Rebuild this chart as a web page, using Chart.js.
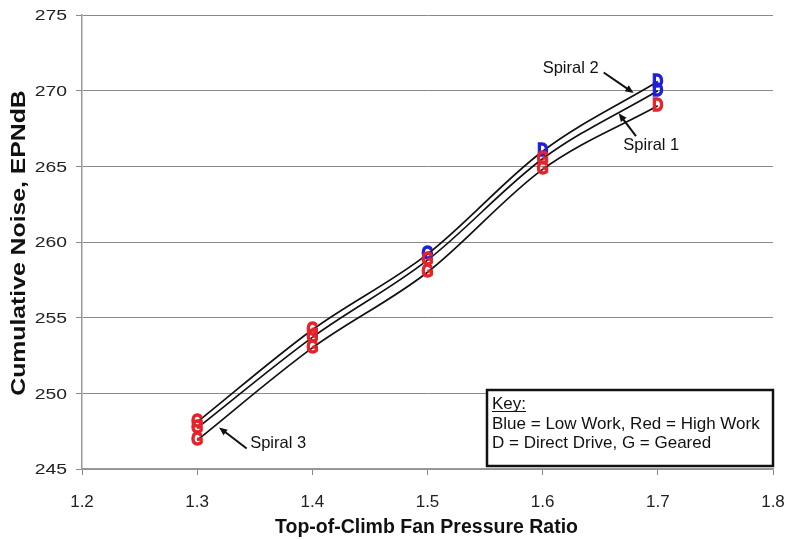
<!DOCTYPE html>
<html>
<head>
<meta charset="utf-8">
<script src="https://cdn.jsdelivr.net/npm/chart.js@4"></script>
<style>
  body { margin: 0; background: #fff; }
  #wrap { width: 786px; height: 540px; }
</style>
</head>
<body>
<div id="wrap"><canvas id="chart" width="786" height="540"></canvas></div>
<script>
// fan pressure ratio at each design point
const pressureRatio = [1.3, 1.4, 1.5, 1.6, 1.7];

// cumulative noise per spiral (EPNdB)
const spiral2Noise = [248.1, 254.2, 259.2, 266.0, 270.6];
const spiral1Noise = [247.7, 253.7, 258.8, 265.5, 270.0];
const spiral3Noise = [246.9, 253.0, 258.0, 264.8, 269.0];

// marker letter (D = direct drive, G = geared) and work level per point
const spiral2Letters = ['G', 'G', 'G', 'D', 'D'];
const spiral2Work = ['high', 'high', 'low', 'low', 'low'];
const spiral1Letters = ['G', 'G', 'G', 'G', 'D'];
const spiral1Work = ['high', 'high', 'high', 'high', 'low'];
const spiral3Letters = ['G', 'G', 'G', 'G', 'D'];
const spiral3Work = ['high', 'high', 'high', 'high', 'high'];

const yTicks = [245, 250, 255, 260, 265, 270, 275];
const xTicks = [1.2, 1.3, 1.4, 1.5, 1.6, 1.7, 1.8];

const xTitle = 'Top-of-Climb Fan Pressure Ratio';
const yTitle = 'Cumulative Noise, EPNdB';

// callout labels: text, text anchor, arrow tail, arrow head (data units)
const callouts = [
    { text: 'Spiral 2', at: [1.600, 271.5], from: [1.653, 271.2], to: [1.679, 269.85] },
    { text: 'Spiral 1', at: [1.670, 266.4], from: [1.681, 267.0], to: [1.666, 268.5] },
    { text: 'Spiral 3', at: [1.346, 246.7], from: [1.343, 246.35], to: [1.319, 247.75] }
];

const keyLines = ['Blue = Low Work, Red = High Work', 'D = Direct Drive, G = Geared'];

const workColor = { low: '#1f1fd6', high: '#e4242a' };
const FONT = '"Liberation Sans", Arial, sans-serif';

function toPoints(ys) {
    return pressureRatio.map((x, i) => ({ x: x, y: ys[i] }));
}

function spiralDataset(label, ys, letters, work) {
    return {
        label: label,
        data: toPoints(ys),
        showLine: true,
        borderColor: '#111',
        borderWidth: 1.7,
        pointRadius: 0,
        cubicInterpolationMode: 'monotone',
        letters: letters,
        work: work
    };
}

// text drawn with a horizontal stretch factor
function stretchText(ctx, text, x, y, sx, outline) {
    ctx.save();
    ctx.translate(x, y);
    ctx.scale(sx, 1);
    ctx.fillText(text, 0, 0);
    if (outline) ctx.strokeText(text, 0, 0);
    ctx.restore();
}

// draws the D / G letters at each data point
const letterMarkers = {
    id: 'letterMarkers',
    afterDatasetsDraw(chart) {
        const ctx = chart.ctx;
        ctx.save();
        ctx.font = 'bold 18px ' + FONT;
        ctx.textAlign = 'center';
        ctx.textBaseline = 'middle';
        ctx.lineWidth = 1.3;
        chart.data.datasets.forEach((ds, di) => {
            const meta = chart.getDatasetMeta(di);
            meta.data.forEach((pt, i) => {
                ctx.fillStyle = workColor[ds.work[i]];
                ctx.strokeStyle = workColor[ds.work[i]];
                stretchText(ctx, ds.letters[i], pt.x, pt.y, 0.85, true);
            });
        });
        ctx.restore();
    }
};

function drawArrow(ctx, x1, y1, x2, y2) {
    const ang = Math.atan2(y2 - y1, x2 - x1);
    ctx.beginPath();
    ctx.moveTo(x1, y1);
    ctx.lineTo(x2 - 6 * Math.cos(ang), y2 - 6 * Math.sin(ang));
    ctx.stroke();
    ctx.beginPath();
    ctx.moveTo(x2, y2);
    ctx.lineTo(x2 - 9 * Math.cos(ang - 0.4), y2 - 9 * Math.sin(ang - 0.4));
    ctx.lineTo(x2 - 9 * Math.cos(ang + 0.4), y2 - 9 * Math.sin(ang + 0.4));
    ctx.closePath();
    ctx.fill();
}

const annotations = {
    id: 'annotations',
    afterDraw(chart) {
        const ctx = chart.ctx;
        const xs = chart.scales.x, ys = chart.scales.y;
        const area = chart.chartArea;
        ctx.save();
        ctx.fillStyle = '#111';
        ctx.strokeStyle = '#111';

        // y tick labels (slightly wide face, as in the original)
        ctx.fillStyle = '#222';
        ctx.font = '15.5px ' + FONT;
        ctx.textAlign = 'right';
        ctx.textBaseline = 'middle';
        yTicks.forEach(v => stretchText(ctx, String(v), area.left - 15, ys.getPixelForValue(v) + 1, 1.25));

        // axis titles
        ctx.fillStyle = '#111';
        ctx.textAlign = 'center';
        ctx.font = 'bold 19.5px ' + FONT;
        ctx.fillText(xTitle, (area.left + area.right) / 2 - 1, 528);
        ctx.save();
        ctx.translate(20, (area.top + area.bottom) / 2 + 1);
        ctx.rotate(-Math.PI / 2);
        ctx.scale(1.27, 1);
        ctx.fillText(yTitle, 0, 0);
        ctx.restore();

        // spiral callouts
        ctx.textAlign = 'left';
        ctx.lineWidth = 2;
        ctx.font = '16.5px ' + FONT;
        callouts.forEach(c => {
            ctx.fillText(c.text, xs.getPixelForValue(c.at[0]), ys.getPixelForValue(c.at[1]));
            drawArrow(ctx,
                xs.getPixelForValue(c.from[0]), ys.getPixelForValue(c.from[1]),
                xs.getPixelForValue(c.to[0]), ys.getPixelForValue(c.to[1]));
        });

        // key box in the lower right corner
        const w = 286, h = 76;
        const bx = area.right - w, by = area.bottom - 3 - h;
        ctx.fillStyle = '#fff';
        ctx.fillRect(bx, by, w, h);
        ctx.lineWidth = 2.5;
        ctx.strokeRect(bx, by, w, h);
        ctx.fillStyle = '#111';
        ctx.textBaseline = 'alphabetic';
        ctx.font = '17px ' + FONT;
        ctx.fillText('Key:', bx + 5, by + 19);
        const kw = ctx.measureText('Key:').width;
        ctx.lineWidth = 1;
        ctx.beginPath();
        ctx.moveTo(bx + 5, by + 21.5);
        ctx.lineTo(bx + 5 + kw, by + 21.5);
        ctx.stroke();
        keyLines.forEach((t, i) => ctx.fillText(t, bx + 5, by + 39 + i * 18.5));
        ctx.restore();
    }
};

new Chart(document.getElementById('chart'), {
    type: 'scatter',
    data: {
        datasets: [
            spiralDataset('Spiral 2', spiral2Noise, spiral2Letters, spiral2Work),
            spiralDataset('Spiral 1', spiral1Noise, spiral1Letters, spiral1Work),
            spiralDataset('Spiral 3', spiral3Noise, spiral3Letters, spiral3Work)
        ]
    },
    options: {
        responsive: false,
        animation: false,
        devicePixelRatio: 1,
        layout: { padding: { top: 15, right: 13, left: 0, bottom: 0 } },
        plugins: { legend: { display: false }, tooltip: { enabled: false } },
        scales: {
            x: {
                type: 'linear',
                min: 1.2,
                max: 1.8,
                afterBuildTicks: s => { s.ticks = xTicks.map(v => ({ value: v })); },
                afterFit: s => { s.height = 71; s.paddingRight = 0; s.paddingLeft = 0; },
                ticks: {
                    color: '#222',
                    font: { family: FONT, size: 17 },
                    padding: 17,
                    maxRotation: 0,
                    callback: v => v.toFixed(1)
                },
                grid: { drawOnChartArea: false, color: '#888', tickLength: 6 },
                border: { color: '#999', width: 1.5 }
            },
            y: {
                min: 245,
                max: 275,
                afterBuildTicks: s => { s.ticks = yTicks.map(v => ({ value: v })); },
                afterFit: s => { s.width = 82; s.paddingTop = 0; s.paddingBottom = 0; },
                ticks: { display: false },
                grid: { color: '#8a8a8a', lineWidth: 1, tickLength: 6 },
                border: { color: '#999', width: 1.5 }
            }
        }
    },
    plugins: [letterMarkers, annotations]
});
</script>
</body>
</html>
